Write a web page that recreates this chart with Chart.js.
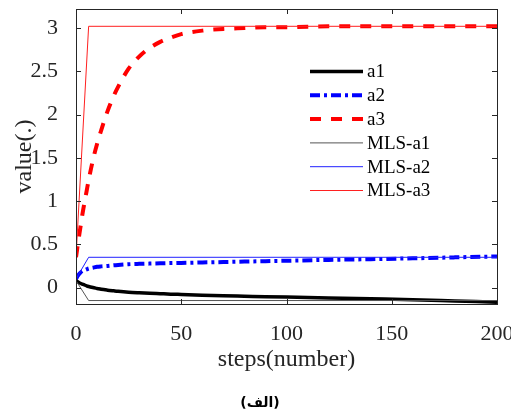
<!DOCTYPE html>
<html><head><meta charset="utf-8">
<script src="https://cdn.jsdelivr.net/npm/chart.js@4/dist/chart.umd.min.js"></script>
<style>html,body{margin:0;padding:0;overflow:hidden;background:#fff;width:511px;height:412px}
#wrap{position:relative;width:520px;height:412px}</style>
</head><body><div id="wrap"><canvas id="c" width="520" height="412"></canvas></div>
<script>
const steps = [0,1,2,3,4,5,6,8,10,12,15,18,20,25,30,35,40,45,50,60,70,80,90,100,120,140,160,180,200];
const a1 = [0.08,0.065,0.05,0.04,0.03,0.02,0.012,0.0,-0.01,-0.02,-0.03,-0.038,-0.043,-0.053,-0.06,-0.066,-0.071,-0.076,-0.08,-0.088,-0.095,-0.10,-0.105,-0.11,-0.12,-0.13,-0.14,-0.155,-0.17];
const a2 = [0.10,0.14,0.17,0.19,0.20,0.21,0.22,0.23,0.24,0.245,0.25,0.258,0.262,0.27,0.274,0.277,0.28,0.283,0.285,0.29,0.295,0.30,0.305,0.31,0.32,0.328,0.338,0.349,0.36];
const a3 = [0.35,0.52,0.68,0.84,0.98,1.11,1.24,1.47,1.66,1.82,2.04,2.22,2.32,2.53,2.67,2.77,2.84,2.89,2.93,2.97,2.99,3.00,3.01,3.01,3.02,3.02,3.02,3.02,3.02];
const mlsSteps = [0,6,200];
const mlsA1 = [0.08,-0.15,-0.15];
const mlsA2 = [0.10,0.35,0.35];
const mlsA3 = [0.35,3.02,3.02];
const xTicks = [0,50,100,150,200];
const yTicks = [0,0.5,1,1.5,2,2.5,3];
const seriesNames = ['a1','a2','a3','MLS-a1','MLS-a2','MLS-a3'];
const caption = '(الف)';

const pts = (xs, ys) => xs.map((x, i) => ({x: x, y: ys[i]}));
const SERIF = "'Liberation Serif', 'Times New Roman', serif";
const AX = '#262626';

const boxPlugin = {
  id: 'boxPlugin',
  afterDatasetsDraw(chart) {
    const {ctx, chartArea: a, scales: {x, y}} = chart;
    ctx.save();
    ctx.strokeStyle = AX; ctx.lineWidth = 1; ctx.setLineDash([]);
    ctx.strokeRect(Math.round(a.left) + 0.5, Math.round(a.top) + 0.5, Math.round(a.right - a.left), Math.round(a.bottom - a.top));
    const L = 5;
    ctx.beginPath();
    x.ticks.forEach(t => {
      const px = Math.round(x.getPixelForValue(t.value)) + 0.5;
      ctx.moveTo(px, a.bottom); ctx.lineTo(px, a.bottom - L);
      ctx.moveTo(px, a.top); ctx.lineTo(px, a.top + L);
    });
    y.ticks.forEach(t => {
      const py = Math.round(y.getPixelForValue(t.value)) + 0.5;
      ctx.moveTo(a.left, py); ctx.lineTo(a.left + L, py);
      ctx.moveTo(a.right, py); ctx.lineTo(a.right - L, py);
    });
    ctx.stroke();
    ctx.restore();
  },
  afterDraw(chart) {
    const {ctx} = chart;
    ctx.save();
    chart.data.datasets.forEach((ds, i) => {
      const yy = 71.5 + i * 23.8;
      ctx.beginPath();
      ctx.setLineDash(ds.borderDash || []);
      ctx.lineWidth = ds.borderWidth;
      ctx.strokeStyle = ds.borderColor;
      ctx.lineCap = 'butt';
      ctx.moveTo(310, yy); ctx.lineTo(363, yy);
      ctx.stroke();
      ctx.setLineDash([]);
      ctx.fillStyle = '#000';
      ctx.font = '19px ' + SERIF;
      ctx.textBaseline = 'middle';
      ctx.textAlign = 'left';
      ctx.fillText(ds.label, 367, yy + 1);
    });
    ctx.fillStyle = '#000';
    ctx.font = "bold 14px 'DejaVu Sans', 'Noto Sans', sans-serif";
    ctx.textAlign = 'center';
    ctx.textBaseline = 'middle';
    ctx.fillText(caption, 260, 403);
    ctx.restore();
  }
};

new Chart(document.getElementById('c'), {
  type: 'line',
  data: {
    datasets: [
      {label: seriesNames[0], data: pts(steps, a1), borderColor: '#000000', borderWidth: 3.5, borderDash: [], order: 1, cubicInterpolationMode: 'monotone'},
      {label: seriesNames[1], data: pts(steps, a2), borderColor: '#0000ff', borderWidth: 4, borderDash: [10, 4, 3, 4], order: 1, cubicInterpolationMode: 'monotone'},
      {label: seriesNames[2], data: pts(steps, a3), borderColor: '#ff0000', borderWidth: 4, borderDash: [11, 10], order: 1, cubicInterpolationMode: 'monotone'},
      {label: seriesNames[3], data: pts(mlsSteps, mlsA1), borderColor: '#555555', borderWidth: 1, borderDash: [], order: 0},
      {label: seriesNames[4], data: pts(mlsSteps, mlsA2), borderColor: '#2020ff', borderWidth: 1, borderDash: [], order: 0},
      {label: seriesNames[5], data: pts(mlsSteps, mlsA3), borderColor: '#ff2020', borderWidth: 1, borderDash: [], order: 0}
    ]
  },
  options: {
    responsive: false, animation: false, devicePixelRatio: 1,
    layout: {padding: {top: 9, right: 23, left: 0, bottom: 0}},
    elements: {point: {radius: 0, hoverRadius: 0}, line: {fill: false, borderJoinStyle: 'round'}},
    plugins: {
      legend: {display: false},
      tooltip: {enabled: false},
      title: {display: false}
    },
    scales: {
      x: {
        type: 'linear', min: 0, max: 200,
        grid: {display: false}, border: {display: false},
        afterBuildTicks: s => { s.ticks = xTicks.map(v => ({value: v})); },
        afterFit: s => { s.height = 108; s.paddingLeft = 0; s.paddingRight = 0; },
        ticks: {color: AX, font: {family: SERIF, size: 22}, padding: 9, maxRotation: 0, autoSkip: false, callback: v => String(v)},
        title: {display: true, text: 'steps(number)', color: AX, font: {family: SERIF, size: 24}, padding: {top: 0, bottom: 38}}
      },
      y: {
        type: 'linear', min: -0.19, max: 3.22,
        grid: {display: false}, border: {display: false},
        afterBuildTicks: s => { s.ticks = yTicks.map(v => ({value: v})); },
        afterFit: s => { s.width = 76; s.paddingTop = 0; s.paddingBottom = 0; },
        ticks: {color: AX, font: {family: SERIF, size: 22}, padding: 10, autoSkip: false, callback: v => String(v)},
        title: {display: true, text: 'value(.)', color: AX, font: {family: SERIF, size: 24}, padding: {top: 10, bottom: 0}}
      }
    }
  },
  plugins: [boxPlugin]
});
</script>
</body></html>
